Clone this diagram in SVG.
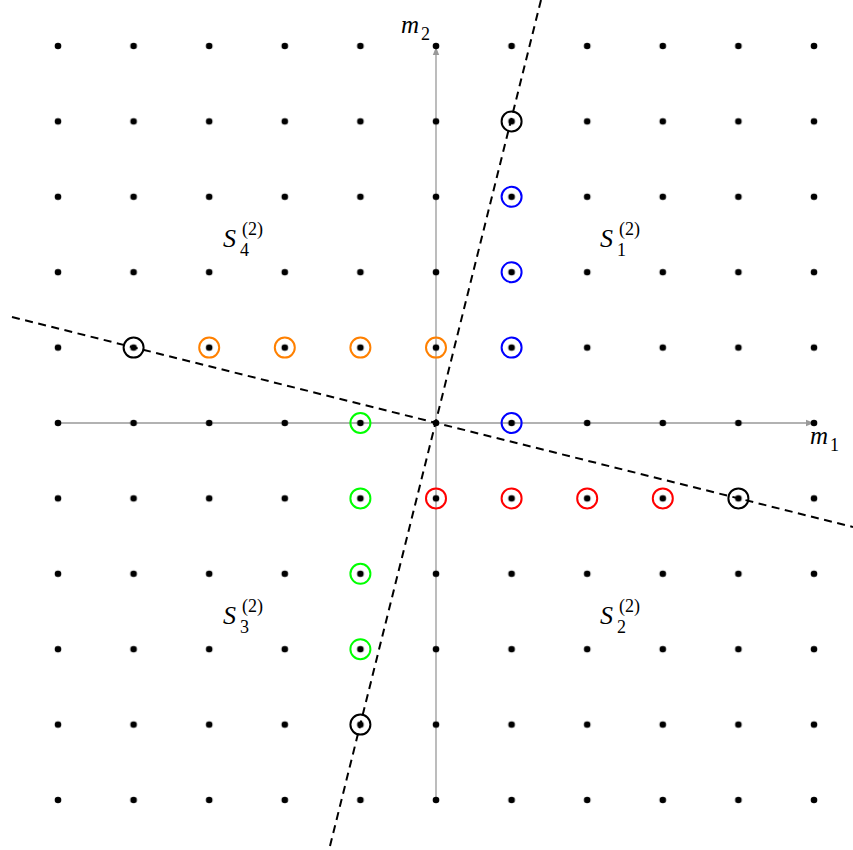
<svg xmlns="http://www.w3.org/2000/svg" width="853" height="850" viewBox="0 0 853 850">
<style>
.ring{fill:none;stroke-width:2}
.axis{stroke:#999;stroke-width:1.3;fill:none}
.dash{stroke:#000;stroke-width:2;stroke-dasharray:8 5.5;fill:none}
text{font-family:"Liberation Serif","DejaVu Serif",serif;fill:#000}
.it{font-style:italic}
.big{font-size:26px}
.sm{font-size:18px}
</style>
<defs>
<marker id="ah" viewBox="0 0 10 10" refX="10" refY="5" markerWidth="8" markerHeight="8" markerUnits="userSpaceOnUse" orient="auto"><path d="M0,1 L10,5 L0,9 Z" fill="#999"/></marker>
<pattern id="grid" x="20.2" y="8.3" width="75.6" height="75.4" patternUnits="userSpaceOnUse"><circle cx="37.8" cy="37.7" r="3.3" fill="#000"/></pattern>
</defs>
<rect width="853" height="850" fill="#fff"/>
<g id="axes">
<line class="axis" x1="58" y1="423" x2="814" y2="423" marker-end="url(#ah)"/>
<line class="axis" x1="436" y1="800" x2="436" y2="47" marker-end="url(#ah)"/>
</g>
<g id="grid-dots">
<rect x="20.2" y="8.3" width="831.6" height="829.4" fill="url(#grid)"/>
</g>
<g id="connectors">
<line class="dash" x1="541" y1="0" x2="330" y2="846"/>
<line class="dash" x1="12" y1="317" x2="853" y2="527"/>
</g>
<g id="black-rings" stroke="#000">
<circle class="ring" cx="511.6" cy="121.4" r="10"/>
<circle class="ring" cx="133.6" cy="347.6" r="10"/>
<circle class="ring" cx="738.4" cy="498.4" r="10"/>
<circle class="ring" cx="360.4" cy="724.6" r="10"/>
</g>
<g id="blue-rings" stroke="#0000ff">
<circle class="ring" cx="511.6" cy="196.8" r="10"/>
<circle class="ring" cx="511.6" cy="272.2" r="10"/>
<circle class="ring" cx="511.6" cy="347.6" r="10"/>
<circle class="ring" cx="511.6" cy="423" r="10"/>
</g>
<g id="orange-rings" stroke="#ff8000">
<circle class="ring" cx="209.2" cy="347.6" r="10"/>
<circle class="ring" cx="284.8" cy="347.6" r="10"/>
<circle class="ring" cx="360.4" cy="347.6" r="10"/>
<circle class="ring" cx="436" cy="347.6" r="10"/>
</g>
<g id="green-rings" stroke="#00ff00">
<circle class="ring" cx="360.4" cy="423" r="10"/>
<circle class="ring" cx="360.4" cy="498.4" r="10"/>
<circle class="ring" cx="360.4" cy="573.8" r="10"/>
<circle class="ring" cx="360.4" cy="649.2" r="10"/>
</g>
<g id="red-rings" stroke="#ff0000">
<circle class="ring" cx="436" cy="498.4" r="10"/>
<circle class="ring" cx="511.6" cy="498.4" r="10"/>
<circle class="ring" cx="587.2" cy="498.4" r="10"/>
<circle class="ring" cx="662.8" cy="498.4" r="10"/>
</g>
<g id="labels">
<g id="label-m2"><text class="it" x="401" y="33" font-size="25">m</text><text class="sm" x="421" y="40">2</text></g>
<g id="label-m1"><text class="it" x="810" y="444" font-size="25">m</text><text class="sm" x="830" y="451">1</text></g>
<g id="label-S1"><text class="it big" x="600" y="247">S</text><text class="sm" x="617" y="256">1</text><text class="sm" x="619" y="235">(2)</text></g>
<g id="label-S4"><text class="it big" x="223" y="247">S</text><text class="sm" x="240" y="256">4</text><text class="sm" x="242" y="235">(2)</text></g>
<g id="label-S3"><text class="it big" x="223" y="624">S</text><text class="sm" x="240" y="633">3</text><text class="sm" x="242" y="612">(2)</text></g>
<g id="label-S2"><text class="it big" x="600" y="624">S</text><text class="sm" x="617" y="633">2</text><text class="sm" x="619" y="612">(2)</text></g>
</g>
</svg>
